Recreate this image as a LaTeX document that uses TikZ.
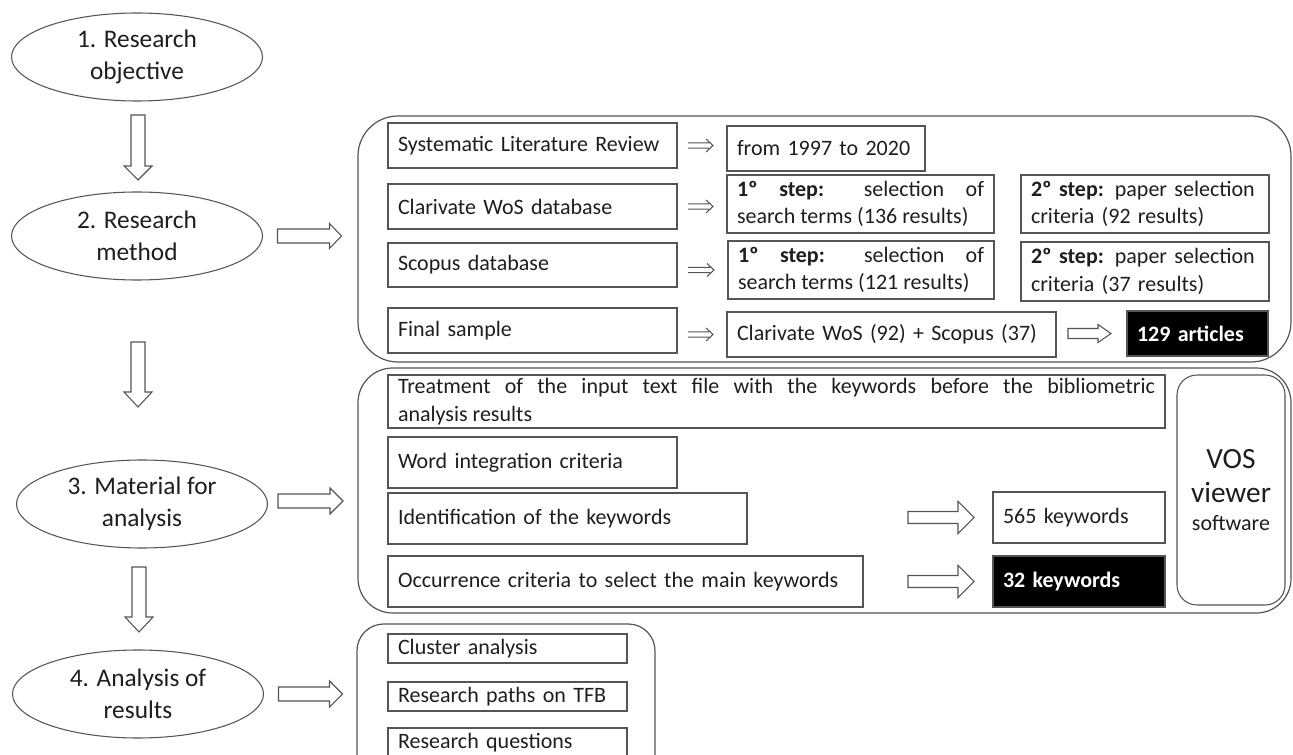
\documentclass[tikz,border=0pt]{standalone}
\usepackage{fontspec}
\setmainfont{Carlito}
\usetikzlibrary{arrows.meta,shapes.geometric,calc}
\newdimen\px \px=0.75pt
\definecolor{ln}{RGB}{85,85,85}
\definecolor{tx}{RGB}{30,30,30}
\newcommand\harr[5]{%
  \draw[hollow] let \p1=(#1), \p2=(#2) in
   (\x1,{\y1-#3*0.75pt}) -- ({\x2-#5*0.75pt},{\y1-#3*0.75pt}) -- ({\x2-#5*0.75pt},{\y1-#4*0.75pt})
   -- (\x2,\y1) -- ({\x2-#5*0.75pt},{\y1+#4*0.75pt}) -- ({\x2-#5*0.75pt},{\y1+#3*0.75pt})
   -- (\x1,{\y1+#3*0.75pt}) -- cycle;}
\newcommand\varr[5]{%
  \draw[hollow] let \p1=(#1), \p2=(#2) in
   ({\x1-#3*0.75pt},\y1) -- ({\x1-#3*0.75pt},{\y2+#5*0.75pt}) -- ({\x1-#4*0.75pt},{\y2+#5*0.75pt})
   -- (\x1,\y2) -- ({\x1+#4*0.75pt},{\y2+#5*0.75pt}) -- ({\x1+#3*0.75pt},{\y2+#5*0.75pt})
   -- ({\x1+#3*0.75pt},\y1) -- cycle;}
% small double arrow (like the glyph =>)
\newcommand\dimp[2]{%
  \draw[imp] let \p1=(#1), \p2=(#2) in
   (\x1,{\y1-2.6*0.75pt}) -- ({\x2-4*0.75pt},{\y1-2.6*0.75pt})
   (\x1,{\y1+2.6*0.75pt}) -- ({\x2-4*0.75pt},{\y1+2.6*0.75pt})
   ({\x2-7*0.75pt},{\y1-6.5*0.75pt}) -- (\x2,\y1) -- ({\x2-7*0.75pt},{\y1+6.5*0.75pt});}
\begin{document}
\begin{tikzpicture}[x=0.75pt,y=-0.75pt,
  every node/.style={inner sep=0pt, outer sep=0pt, text=tx},
  stage/.style={ellipse, draw=ln, line width=0.8pt, minimum width=251\px, minimum height=88\px,
    align=center, font=\fontsize{19}{24}\selectfont},
  group/.style={draw=ln, line width=0.9pt},
  box/.style={draw=ln, line width=0.8pt, anchor=north west, font=\fontsize{16.5}{20.5}\selectfont,
    align=left, inner xsep=10\px},
  jbox/.style={box, align=justify},
  blackbox/.style={box, fill=black, text=white, font=\fontsize{16.5}{20.5}\selectfont\bfseries},
  imp/.style={draw=ln, line width=0.8pt, line join=miter},
  hollow/.style={draw=ln, line width=0.8pt, fill=white},
]
\useasboundingbox (0,0) rectangle (1293,755);

% stages
\node[stage] (e1) at (137,57) {1. Research\\objective};
\node[stage] (e2) at (137,236) {2. Research\\method};
\node[stage] (e3) at (142,504) {3. Material for\\analysis};
\node[stage] (e4) at (138,694) {4. Analysis of\\results};

% group frames
\draw[group, rounded corners=30pt] (358,116) rectangle (1291,362);
\draw[group, rounded corners=26pt] (358,368) rectangle (1291,613);
\draw[group, rounded corners=20pt] (357,624) rectangle (655,790);

% method boxes
\node[box, text width=269\px, minimum height=45\px] (slr) at (388,123) {Systematic Literature Review};
\node[box, text width=178\px, minimum height=45\px] (from) at (727,126) {from 1997 to 2020};
\node[box, text width=269\px, minimum height=45\px] (wos) at (388,184) {Clarivate WoS database};
\node[jbox, text width=247\px, minimum height=58\px] (wos1) at (727,175) {\textbf{1º\ step:} selection of\linebreak search terms (136 results)};
\node[box, text width=228\px, minimum height=58\px] (wos2) at (1021,175) {\textbf{2º step:} paper selection\\criteria (92 results)};
\node[box, text width=269\px, minimum height=44\px] (sco) at (388,243) {Scopus database};
\node[jbox, text width=246\px, minimum height=58\px] (sco1) at (728,241) {\textbf{1º\ step:} selection of\linebreak search terms (121 results)};
\node[box, text width=228\px, minimum height=59\px] (sco2) at (1021,242) {\textbf{2º step:} paper selection\\criteria (37 results)};
\node[box, text width=269\px, minimum height=45\px] (fin) at (388,308) {Final sample};
\node[box, text width=309\px, minimum height=45\px] (sum) at (727,312) {Clarivate WoS (92) + Scopus (37)};
\node[blackbox, text width=121\px, minimum height=45\px] (art) at (1127,311) {129 articles};

\coordinate (d1s) at ($(slr.east)+(11,0)$);  \coordinate (d1e) at ($(slr.east -| from.west)+(-14,0)$);
\dimp{d1s}{d1e}
\coordinate (d2s) at ($(wos.east)+(11,0)$);  \coordinate (d2e) at ($(wos.east -| wos1.west)+(-14,0)$);
\dimp{d2s}{d2e}
\coordinate (d3s) at ($(sco1.west -| sco.east)+(11,0)$);  \coordinate (d3e) at ($(sco1.west)+(-14,0)$);
\dimp{d3s}{d3e}
\coordinate (d4s) at ($(sum.west -| fin.east)+(11,0)$);  \coordinate (d4e) at ($(sum.west)+(-14,0)$);
\dimp{d4s}{d4e}
\coordinate (s1) at ($(art.west -| sum.east)+(12,0)$);
\coordinate (t1) at ($(art.west)+(-16,0)$);
\harr{s1}{t1}{5}{9}{13}

% material boxes
\node[jbox, text width=757\px, minimum height=53\px] (treat) at (388,375) {Treatment of the input text file with the keywords before the bibliometric\linebreak analysis results};
\node[box, text width=269\px, minimum height=51\px] (word) at (388,437) {Word integration criteria};
\node[box, text width=339\px, minimum height=51\px] (ident) at (388,493) {Identification of the keywords};
\node[box, text width=455\px, minimum height=51\px] (occ) at (388,556) {Occurrence criteria to select the main keywords};
\node[box, text width=152\px, minimum height=51\px] (k565) at (993,492) {565 keywords};
\node[blackbox, text width=152\px, minimum height=51\px] (k32) at (993,556) {32 keywords};
\node[box, rounded corners=15pt, text width=88\px, minimum height=230\px, align=center,
  font=\fontsize{22}{26}\selectfont] (vos) at (1177,375)
  {VOS\\viewer\\[-5pt]{\fontsize{16.5}{20}\selectfont software}};
\coordinate (s2) at ($(k565.west)+(-85,0)$);
\coordinate (t2) at ($(k565.west)+(-19,0)$);
\harr{s2}{t2}{6}{16}{16}
\coordinate (s3) at ($(k32.west)+(-85,0)$);
\coordinate (t3) at ($(k32.west)+(-19,0)$);
\harr{s3}{t3}{6}{16}{16}

% analysis boxes
\node[box, text width=219\px, minimum height=29\px] (clu) at (388,634) {Cluster analysis};
\node[box, text width=219\px, minimum height=29\px] (pat) at (388,682) {Research paths on TFB};
\node[box, text width=219\px, minimum height=29\px] (que) at (388,728) {Research questions};

% vertical arrows
\coordinate (v1s) at (138,115); \coordinate (v1e) at (138,180);
\varr{v1s}{v1e}{7}{14}{14}
\coordinate (v2s) at (138,342); \coordinate (v2e) at (138,407);
\varr{v2s}{v2e}{7}{14}{15}
\coordinate (v3s) at (139,567); \coordinate (v3e) at (139,632);
\varr{v3s}{v3e}{7}{14}{15}

% horizontal arrows
\coordinate (h2s) at ($(e2.east)+(15,0)$); \coordinate (h2e) at ($(e2.east)+(79,0)$);
\harr{h2s}{h2e}{7}{12.5}{12}
\coordinate (h3s) at (278,501); \coordinate (h3e) at (343,501);
\harr{h3s}{h3e}{7}{13}{13}
\coordinate (h4s) at ($(e4.east)+(15,0)$); \coordinate (h4e) at ($(e4.east)+(79,0)$);
\harr{h4s}{h4e}{7}{13}{13}
\end{tikzpicture}
\end{document}
